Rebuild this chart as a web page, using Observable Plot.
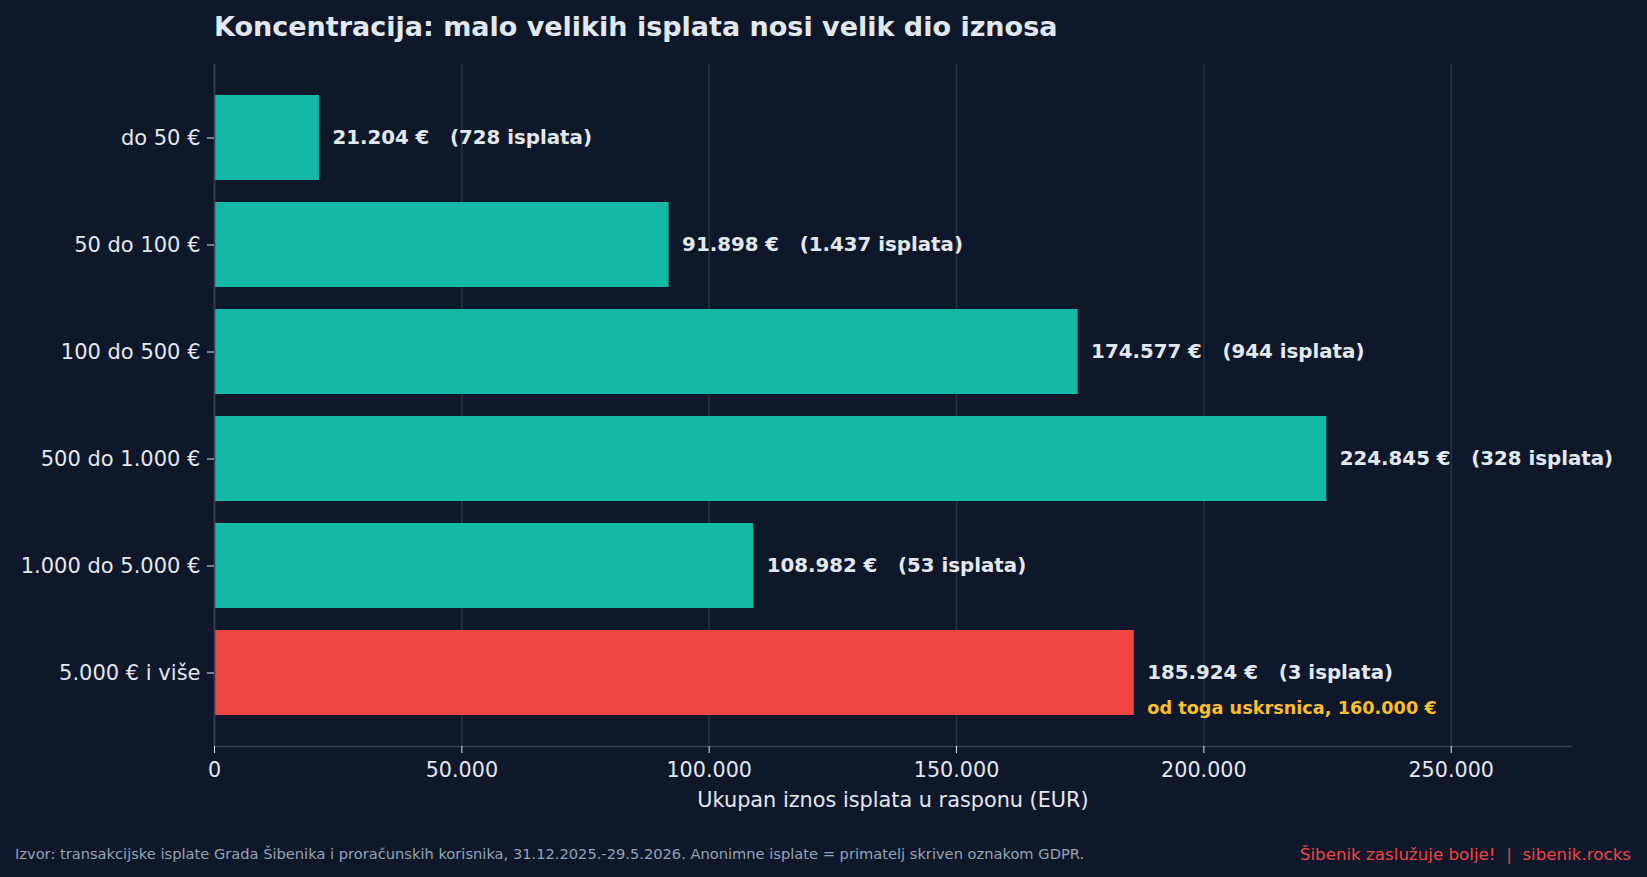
<!DOCTYPE html>
<html>
<head>
<meta charset="utf-8">
<script src="https://cdn.jsdelivr.net/npm/d3@7"></script>
<script src="https://cdn.jsdelivr.net/npm/@observablehq/plot@0.6"></script>
<style>
html,body{margin:0;padding:0;background:#0f172a;}
body{width:1647px;height:877px;overflow:hidden;font-family:"DejaVu Sans",sans-serif;}
#title{box-sizing:border-box;height:56px;padding:13px 0 0 214px;font-size:27px;line-height:1;font-weight:bold;color:#e2e8f0;white-space:nowrap;}
#chart{height:759px;}
#chart svg{display:block;}
#footer{position:relative;height:62px;}
#source{position:absolute;left:15px;top:32px;font-size:14.65px;line-height:1;color:#94a3b8;white-space:nowrap;}
#brand{position:absolute;right:16px;top:30.5px;font-size:16.7px;line-height:1;color:#ef4444;white-space:pre;}
</style>
</head>
<body>
<div id="title"></div>
<div id="chart"></div>
<div id="footer"><span id="source"></span><span id="brand"></span></div>
<script>
// ---- data ----
const categories = ["do 50 €", "50 do 100 €", "100 do 500 €", "500 do 1.000 €", "1.000 do 5.000 €", "5.000 € i više"];
const totals = [21204, 91898, 174577, 224845, 108982, 185924];
const counts = [728, 1437, 944, 328, 53, 3];
const highlightCategory = "5.000 € i više";
const noteCategories = ["5.000 € i više"];
const noteLabels = ["od toga uskrsnica"];
const noteAmounts = [160000];
const xTicks = [0, 50000, 100000, 150000, 200000, 250000];
const titleText = "Koncentracija: malo velikih isplata nosi velik dio iznosa";
const xLabel = "Ukupan iznos isplata u rasponu (EUR)";
const sourceText = "Izvor: transakcijske isplate Grada Šibenika i proračunskih korisnika, 31.12.2025.-29.5.2026. Anonimne isplate = primatelj skriven oznakom GDPR.";
const brandText = "Šibenik zaslužuje bolje!  |  sibenik.rocks";

// ---- helpers ----
const fmt = n => String(n).replace(/\B(?=(\d{3})+(?!\d))/g, ".");
const NB = "\u00a0";
const TEAL = "#14b8a6", RED = "#ef4444", TEXT = "#e2e8f0", AMBER = "#fbbf24", SPINE = "#334155";

const rows = categories.map((c, i) => ({category: c, total: totals[i], count: counts[i]}));
const notes = noteCategories.map((c, i) => ({
  category: c,
  anchor: totals[categories.indexOf(c)],
  text: `${noteLabels[i]}, ${fmt(noteAmounts[i])} €`
}));
const xMax = d3.max(totals) * 1.22;

document.getElementById("title").textContent = titleText;
document.getElementById("source").textContent = sourceText;
document.getElementById("brand").textContent = brandText;

const chart = Plot.plot({
  width: 1647,
  height: 759,
  marginLeft: 214,
  marginRight: 76,
  marginTop: 8,
  marginBottom: 69,
  style: {background: "transparent", color: TEXT, fontFamily: "DejaVu Sans", fontSize: "21px", overflow: "visible"},
  x: {domain: [0, xMax]},
  y: {domain: categories, paddingInner: 0.21, paddingOuter: 0.29},
  color: {type: "identity"},
  marks: [
    Plot.gridX(xTicks, {stroke: SPINE, strokeOpacity: 0.6, strokeWidth: 1.6}),
    Plot.barX(rows, {x: "total", y: "category", fill: d => d.category === highlightCategory ? RED : TEAL}),
    Plot.ruleX([0], {stroke: SPINE, strokeWidth: 1.6}),
    Plot.frame({anchor: "bottom", stroke: SPINE, strokeWidth: 1.6}),
    Plot.axisX(xTicks, {tickSize: 7, tickPadding: 9, tickFormat: fmt, color: TEXT, fontSize: 20.7, label: null}),
    Plot.axisY({tickSize: 7, tickPadding: 7, color: TEXT, fontSize: 21, label: null}),
    Plot.text(rows, {
      x: "total", y: "category",
      text: d => `${fmt(d.total)}${NB}€${NB}${NB}${NB}(${fmt(d.count)}${NB}isplata)`,
      textAnchor: "start", dx: 13, fontWeight: "bold", fontSize: 19.8, fill: TEXT
    }),
    Plot.text(notes, {
      x: "anchor", y: "category", text: "text",
      textAnchor: "start", dx: 13, dy: 35.5, fontWeight: "bold", fontSize: 17.7, fill: AMBER
    }),
    Plot.text([xLabel], {frameAnchor: "bottom", dy: 53.5, fontSize: 20.8, fill: TEXT, lineAnchor: "middle"})
  ]
});
document.getElementById("chart").appendChild(chart);
</script>
</body>
</html>
